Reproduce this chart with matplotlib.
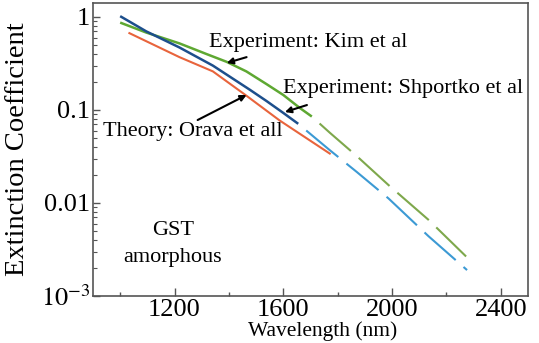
import matplotlib
matplotlib.use('Agg')
import matplotlib.pyplot as plt
from matplotlib.ticker import FixedLocator, FixedFormatter, LogLocator, NullFormatter

# data (wavelength in nm, extinction coefficient k)
kim_wl_solid = [1000, 1096, 1218, 1317, 1391, 1464, 1538, 1600, 1661, 1705]
kim_k_solid = [0.87, 0.68, 0.52, 0.40, 0.33, 0.26, 0.19, 0.145, 0.105, 0.085]
kim_wl_dash = [1705, 1771, 1870, 1987, 2134, 2276]
kim_k_dash = [0.085, 0.057, 0.032, 0.0156, 0.0066, 0.0026]

shp_wl_solid = [1000, 1096, 1218, 1341, 1477, 1538, 1600, 1655]
shp_k_solid = [1.02, 0.70, 0.47, 0.30, 0.165, 0.125, 0.093, 0.071]
shp_wl_dash = [1655, 1771, 1870, 1987, 2134, 2276]
shp_k_dash = [0.071, 0.037, 0.0216, 0.0112, 0.0044, 0.0019]

orava_wl = [1034, 1218, 1341, 1458, 1587, 1771]
orava_k = [0.67, 0.37, 0.26, 0.147, 0.077, 0.034]

x_major = [1200, 1600, 2000, 2400]
x_minor = [1000, 1400, 1800, 2200]
y_ticks = [1e-3, 1e-2, 1e-1, 1]
y_labels = ['$10^{-3}$', '0.01', '0.1', '1']

plt.rcParams['font.family'] = ['Liberation Serif', 'DejaVu Serif']
plt.rcParams['mathtext.fontset'] = 'stix'

fig = plt.figure(figsize=(5.39, 3.43), dpi=100)
ax = fig.add_axes([0.1725, 0.137, 0.807, 0.854])

ax.plot(kim_wl_solid, kim_k_solid, color='#5ea832', lw=1.8, solid_capstyle='butt')
ax.plot(kim_wl_dash, kim_k_dash, color='#7ea84c', lw=1.5, linestyle=(20, (20, 5)))
ax.plot(shp_wl_solid, shp_k_solid, color='#1d4f8c', lw=1.8, solid_capstyle='butt')
ax.plot(shp_wl_dash, shp_k_dash, color='#3c9ad4', lw=1.5, linestyle=(20, (20, 5)))
ax.plot(orava_wl, orava_k, color='#e8643c', lw=1.5)

ax.set_yscale('log')
ax.set_xlim(900, 2500)
ax.set_ylim(1e-3, 1.41)

ax.xaxis.set_major_locator(FixedLocator(x_major))
ax.xaxis.set_minor_locator(FixedLocator(x_minor))
ax.yaxis.set_major_locator(FixedLocator(y_ticks))
ax.yaxis.set_major_formatter(FixedFormatter(y_labels))
ax.yaxis.set_minor_locator(LogLocator(base=10, subs=range(2, 10)))
ax.yaxis.set_minor_formatter(NullFormatter())

ax.tick_params(which='both', direction='in', top=False, right=False, color='#555555')
ax.tick_params(axis='x', which='major', length=6, width=1, labelsize=19, pad=2)
ax.tick_params(axis='x', which='minor', length=3, width=1)
ax.tick_params(axis='y', which='major', length=5, width=1, labelsize=19, pad=2)
ax.tick_params(axis='y', which='minor', length=3, width=0.8)
for s in ax.spines.values():
    s.set_color('#555555')
    s.set_linewidth(1.2)

ax.set_xlabel('Wavelength (nm)', fontsize=15.5)
ax.xaxis.set_label_coords(0.527, -0.087)
ax.set_ylabel('Extinction Coefficient', fontsize=20.5)
ax.yaxis.set_label_coords(-0.145, 0.5)

arrow = dict(arrowstyle='-|>', color='black', lw=1.5, mutation_scale=9, shrinkA=0, shrinkB=0)
ax.annotate('', xy=(1392, 0.32), xytext=(1465, 0.37), arrowprops=arrow)
ax.text(1690, 0.525, 'Experiment: Kim et al', fontsize=16, ha='center', va='center')
ax.annotate('', xy=(1606, 0.095), xytext=(1687, 0.113), arrowprops=arrow)
ax.text(2041, 0.172, 'Experiment: Shportko et al', fontsize=16, ha='center', va='center')
ax.annotate('', xy=(1465, 0.145), xytext=(1285, 0.078), arrowprops=arrow)
ax.text(1266, 0.059, 'Theory: Orava et all', fontsize=16, ha='center', va='center')

ax.text(1193, 0.0051, 'GST', fontsize=16, ha='center', va='center')
ax.text(1193, 0.0026, 'amorphous', fontsize=16, ha='center', va='center')

fig.savefig('out.png', dpi=100)
